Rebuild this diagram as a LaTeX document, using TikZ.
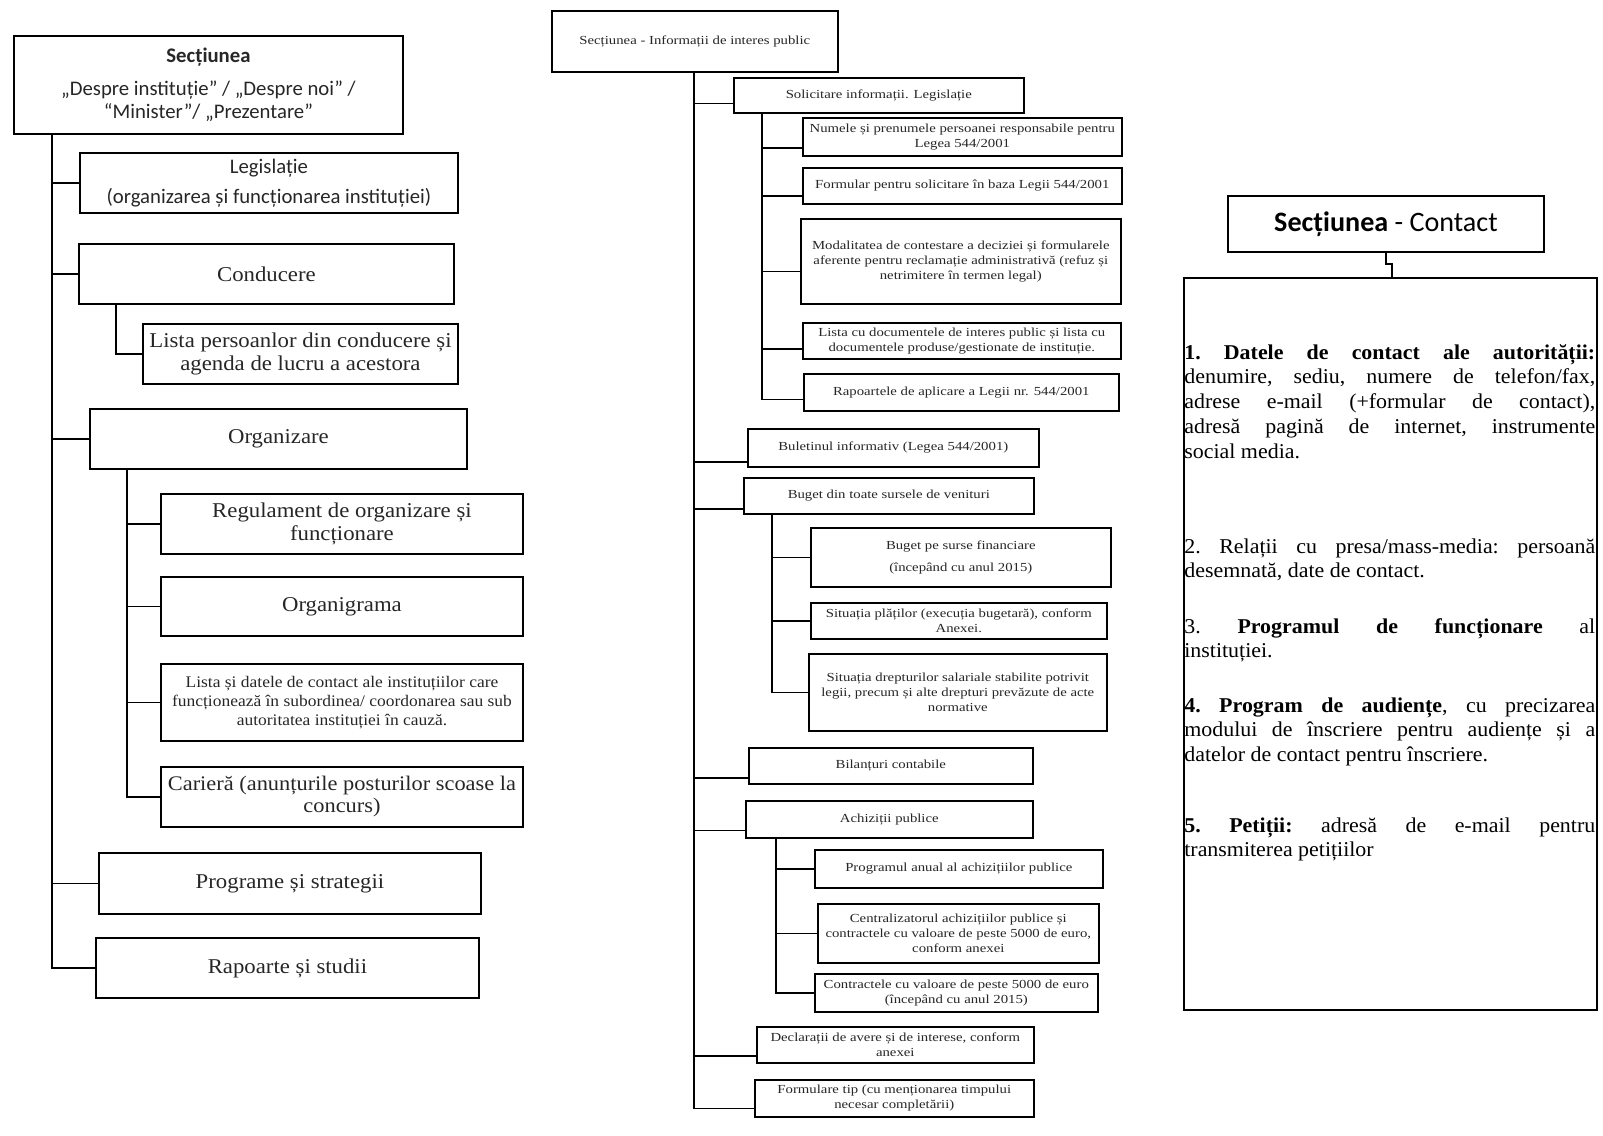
\documentclass[tikz,border=0pt]{standalone}
\usepackage{fontspec}
\setmainfont[FakeStretch=1.08]{Liberation Serif}
\newfontfamily\midfont[FakeStretch=1.2]{Liberation Serif}
\newfontfamily\ctcfont[FakeStretch=1.04]{Liberation Serif}
\newfontfamily\calfont{Carlito}
\usetikzlibrary{calc}

\tikzset{
  sz/.style 2 args={minimum width=#1*0.02cm, minimum height=#2*0.02cm},
  lbox/.style={draw, line width=1.1pt, anchor=north west, align=center, inner sep=1pt,
    text=black!85, font=\fontsize{12}{13.5}\selectfont},
  mbox/.style={draw, line width=0.9pt, anchor=north west, align=center, inner sep=1pt,
    text=black!85, font=\midfont\fontsize{7}{8.5}\selectfont},
  link/.style={line width=1.1pt},
  mlink/.style={line width=0.9pt},
  item/.style={anchor=base west, inner sep=0pt, text width=8.22cm, align=justify,
    font=\ctcfont\fontsize{12}{14.2}\selectfont\frenchspacing}
}

\begin{document}
\begin{tikzpicture}[x=0.02cm,y=-0.02cm]
\useasboundingbox (0,0) rectangle (1603,1136);
% left column
\node[lbox, sz={389}{98}, font=\calfont\fontsize{11.8}{12.8}\selectfont] (despre) at (13,35)
  {\textbf{Secțiunea}\\[6pt] „Despre instituție” / „Despre noi” /\\ “Minister”/ „Prezentare”};
\node[lbox, sz={378}{60}, font=\calfont\fontsize{11.8}{17}\selectfont] (legis) at (79,152)
  {Legislație\\(organizarea și funcționarea instituției)};
\node[lbox, sz={375}{60}] (cond) at (78,243) {Conducere};
\node[lbox, sz={315}{60}, font=\fontsize{12}{12.8}\selectfont] (pers) at (142,323)
  {Lista persoanlor din conducere și\\agenda de lucru a acestora};
\node[lbox, sz={377}{60}] (org) at (89,408) {Organizare};
\node[lbox, sz={362}{60}] (reg) at (160,493) {Regulament de organizare și\\funcționare};
\node[lbox, sz={362}{59}] (orgr) at (160,576) {Organigrama};
\node[lbox, sz={362}{77}, font=\fontsize{9.2}{10.8}\selectfont] (subord) at (160,663)
  {Lista și datele de contact ale instituțiilor care\\funcționează în subordinea/ coordonarea sau sub\\autoritatea instituției în cauză.};
\node[lbox, sz={362}{60}, font=\fontsize{11.8}{12.5}\selectfont] (cariera) at (160,766)
  {Carieră (anunțurile posturilor scoase la\\concurs)};
\node[lbox, sz={382}{61}] (progr) at (98,852) {Programe și strategii};
\node[lbox, sz={383}{60}] (rapL) at (95,937) {Rapoarte și studii};
% left links
\coordinate (tL) at ($(despre.south west)+(39,0)$);
\foreach \n in {legis,cond,org,progr,rapL} \draw[link] (\n.west) -| (tL);
\coordinate (cS) at ($(cond.south west)+(38,0)$);
\draw[link] (pers.west) -| (cS);
\coordinate (oS) at ($(org.south west)+(38,0)$);
\foreach \n in {reg,orgr,subord,cariera} \draw[link] (\n.west) -| (oS);

% middle column
\node[mbox, sz={286}{61}] (info) at (551,10) {Secțiunea - Informații de interes public};
\node[mbox, sz={290}{35}] (solic) at (733,77) {Solicitare informații. Legislație};
\node[mbox, sz={319}{38}] (resp) at (802,117)
  {Numele și prenumele persoanei responsabile pentru\\Legea 544/2001};
\node[mbox, sz={319}{36}] (formL) at (802,167) {Formular pentru solicitare în baza Legii 544/2001};
\node[mbox, sz={320}{85}] (contest) at (800,218)
  {Modalitatea de contestare a deciziei și formularele\\aferente pentru reclamație administrativă (refuz și\\netrimitere în termen legal)};
\node[mbox, sz={318}{36}] (docs) at (802,322)
  {Lista cu documentele de interes public și lista cu\\documentele produse/gestionate de instituție.};
\node[mbox, sz={315}{37}] (aplic) at (803,373) {Rapoartele de aplicare a Legii nr. 544/2001};
\node[mbox, sz={291}{38}] (bulet) at (747,428) {Buletinul informativ (Legea 544/2001)};
\node[mbox, sz={290}{36}] (buget) at (743,477) {Buget din toate sursele de venituri};
\node[mbox, sz={300}{59}] (surse) at (810,527) {Buget pe surse financiare\\[4pt](începând cu anul 2015)};
\node[mbox, sz={296}{36}] (plati) at (810,602)
  {Situația plăților (execuția bugetară), conform\\Anexei.};
\node[mbox, sz={298}{77}] (salar) at (808,653)
  {Situația drepturilor salariale stabilite potrivit\\legii, precum și alte drepturi prevăzute de acte\\normative};
\node[mbox, sz={284}{36}] (bilant) at (748,747) {Bilanțuri contabile};
\node[mbox, sz={287}{37}] (achiz) at (745,800) {Achiziții publice};
\node[mbox, sz={288}{38}] (anual) at (814,849) {Programul anual al achizițiilor publice};
\node[mbox, sz={281}{59}] (central) at (817,903)
  {Centralizatorul achizițiilor publice și\\contractele cu valoare de peste 5000 de euro,\\conform anexei};
\node[mbox, sz={283}{38}] (contr) at (814,973)
  {Contractele cu valoare de peste 5000 de euro\\(începând cu anul 2015)};
\node[mbox, sz={277}{36}] (avere) at (756,1026) {Declarații de avere și de interese, conform\\anexei};
\node[mbox, sz={279}{37}] (tip) at (754,1079) {Formulare tip (cu menționarea timpului\\necesar completării)};
% middle links
\coordinate (tM) at ($(info.south west)+(143,0)$);
\foreach \n/\d in {solic/8,bulet/14,buget/13,bilant/12,achiz/11,avere/11,tip/10}
  \draw[mlink] (\n.west) ++(0,\d) coordinate (c) -| (tM);
\coordinate (sS) at ($(solic.south west)+(29,0)$);
\foreach \n/\d in {resp/11,formL/10,contest/10,docs/8,aplic/7}
  \draw[mlink] (\n.west) ++(0,\d) coordinate (c) -| (sS);
\coordinate (bS) at ($(buget.south west)+(29,0)$);
\foreach \n in {surse,plati,salar} \draw[mlink] (\n.west) -| (bS);
\coordinate (aS) at ($(achiz.south west)+(31,0)$);
\foreach \n in {anual,central,contr} \draw[mlink] (\n.west) -| (aS);

% right column: contact
\node[draw, line width=1.1pt, anchor=north west, sz={316}{56},
  font=\calfont\fontsize{16}{18}\selectfont] (ctc) at (1227,195) {\textbf{Secțiunea} - Contact};
\node[draw, line width=1.1pt, anchor=north west, sz={413}{732}] (cbox) at (1183,277) {};
\draw[link] (ctc.south) -- ++(0,11) -- ++(6,0) coordinate (z) -- (z |- cbox.north);
\node[item] (it1) at (1184,359) {\textbf{1. Datele de contact ale autorității:}\linebreak
  denumire, sediu, numere de telefon/fax,\linebreak adrese e-mail (+formular de contact),\linebreak
  adresă pagină de internet, instrumente\linebreak social media.};
\node[item] (it2) at (1184,553) {2. Relații cu presa/mass-media: persoană\linebreak desemnată, date de contact.};
\node[item] (it3) at (1184,633) {3. \textbf{Programul de funcționare} al\linebreak instituției.};
\node[item] (it4) at (1184,712) {\textbf{4. Program de audiențe}, cu precizarea\linebreak
  modului de înscriere pentru audiențe și a\linebreak datelor de contact pentru înscriere.};
\node[item] (it5) at (1184,832) {\textbf{5. Petiții:} adresă de e-mail pentru\linebreak transmiterea petițiilor};
\end{tikzpicture}
\end{document}
